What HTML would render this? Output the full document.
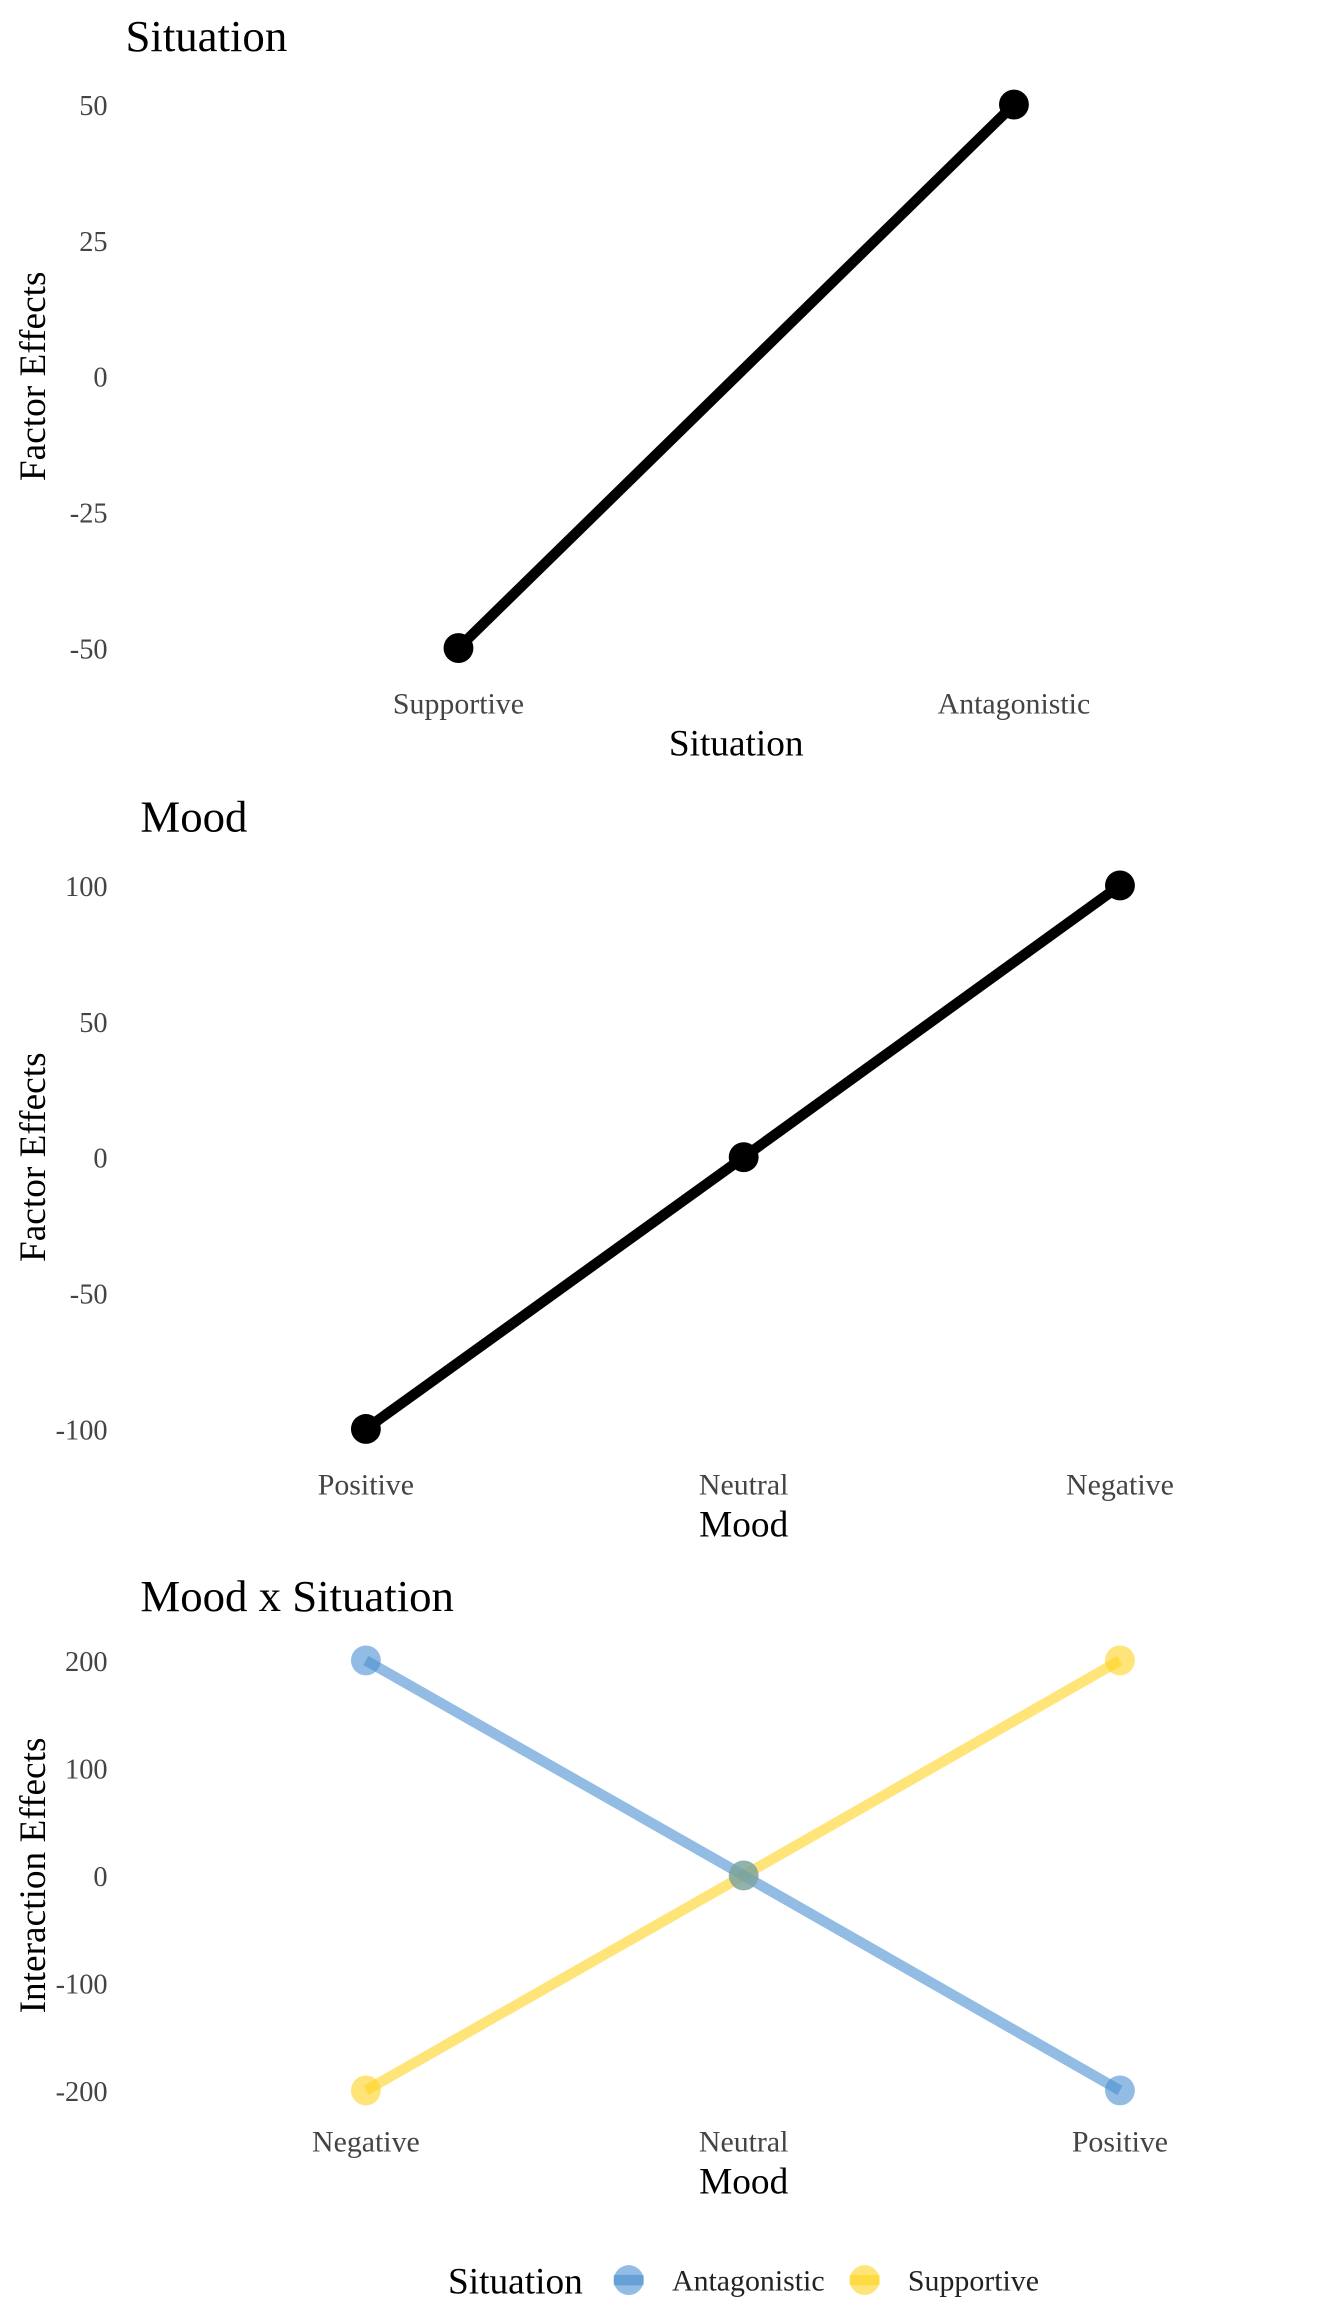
<!DOCTYPE html>
<html><head><meta charset="utf-8"><style>
html,body{margin:0;padding:0;background:#fff}
svg{display:block;font-family:"Liberation Serif",serif}
</style></head><body>
<svg id="chart" width="1344" height="2304" viewBox="0 0 900 1543" xmlns="http://www.w3.org/2000/svg">
<g id="p1"></g>
<g id="p2"></g>
<g id="p3"></g>
<g id="legend">
  <text x="300" y="1536" font-size="25">Situation</text>
  <g>
    <line x1="411" y1="1527" x2="431" y2="1527" stroke="#4a90d0" stroke-opacity="0.6" stroke-width="7"/>
    <circle cx="421" cy="1527" r="10" fill="#4a90d0" fill-opacity="0.6"/>
    <text x="450" y="1534" font-size="20" fill="#222">Antagonistic</text>
  </g>
  <g>
    <line x1="569" y1="1527" x2="589" y2="1527" stroke="#ffd320" stroke-opacity="0.6" stroke-width="7"/>
    <circle cx="579" cy="1527" r="10" fill="#ffd320" fill-opacity="0.6"/>
    <text x="608" y="1534" font-size="20" fill="#222">Supportive</text>
  </g>
</g>
</svg>
<script>
const p1Categories = ["Supportive", "Antagonistic"];
const p1Values = [-50, 50];
const p1Ticks = [-50, -25, 0, 25, 50];
const p2Categories = ["Positive", "Neutral", "Negative"];
const p2Values = [-100, 0, 100];
const p2Ticks = [-100, -50, 0, 50, 100];
const p3Categories = ["Negative", "Neutral", "Positive"];
const p3Antagonistic = [200, 0, -200];
const p3Supportive = [-200, 0, 200];
const p3Ticks = [-200, -100, 0, 100, 200];

const NS = "http://www.w3.org/2000/svg";
function mk(parent, tag, attrs, text) {
  const e = document.createElementNS(NS, tag);
  for (const k in attrs) e.setAttribute(k, attrs[k]);
  if (text !== undefined) e.textContent = text;
  parent.appendChild(e);
  return e;
}
function panel(gid, cfg) {
  const g = document.getElementById(gid);
  const ys = v => cfg.yTop + (cfg.yMax - v) / (cfg.yMax - cfg.yMin) * (cfg.yBot - cfg.yTop);
  const xs = i => cfg.xs[i];
  let t = mk(g, "text", {x: cfg.titleX, y: cfg.titleY, "font-size": 30}, cfg.title);
  
  
  cfg.ticks.forEach(v => {
    const e = mk(g, "text", {x: 72, y: ys(v) + 7, "font-size": 19, "text-anchor": "end", fill: "#444"}, String(v));
    
    
  });
  cfg.cats.forEach((c, i) => {
    const e = mk(g, "text", {x: xs(i), y: cfg.labY, "font-size": 20, "text-anchor": "middle", fill: "#444"}, c);
    
    
  });
  let xt = mk(g, "text", {x: cfg.xTitleX, y: cfg.xTitleY, "font-size": 25, "text-anchor": "middle"}, cfg.xTitle);
  
  
  const cy = (cfg.yTop + cfg.yBot) / 2;
  let yt = mk(g, "text", {x: 0, y: 0, "font-size": 25, "text-anchor": "middle", transform: `translate(30,${cy}) rotate(-90)`}, cfg.yTitle);
  
  
  cfg.series.forEach(s => {
    const pts = s.vals.map((v, i) => xs(i) + "," + ys(v)).join(" ");
    const l = mk(g, "polyline", {points: pts, fill: "none", stroke: s.color, "stroke-opacity": s.op, "stroke-width": 7});
    
    
  });
  cfg.series.forEach(s => {
    s.vals.forEach((v, i) => {
      const c = mk(g, "circle", {cx: xs(i), cy: ys(v), r: 10, fill: s.color, "fill-opacity": s.op});
      
      
    });
  });
}
panel("p1", {title: "Situation", titleX: 84, titleY: 34, yMin: -50, yMax: 50, yTop: 70, yBot: 434,
  ticks: p1Ticks, cats: p1Categories, xs: [307, 679], labY: 478, xTitle: "Situation", xTitleX: 493, xTitleY: 506,
  yTitle: "Factor Effects", series: [{name: "situation", vals: p1Values, color: "#000", op: 1}]});
panel("p2", {title: "Mood", titleX: 94, titleY: 557, yMin: -100, yMax: 100, yTop: 593, yBot: 957,
  ticks: p2Ticks, cats: p2Categories, xs: [245, 498, 750], labY: 1001, xTitle: "Mood", xTitleX: 498, xTitleY: 1029,
  yTitle: "Factor Effects", series: [{name: "mood", vals: p2Values, color: "#000", op: 1}]});
panel("p3", {title: "Mood x Situation", titleX: 94, titleY: 1079, yMin: -200, yMax: 200, yTop: 1112, yBot: 1400,
  ticks: p3Ticks, cats: p3Categories, xs: [245, 498, 750], labY: 1441, xTitle: "Mood", xTitleX: 498, xTitleY: 1469,
  yTitle: "Interaction Effects", series: [
    {name: "supportive", vals: p3Supportive, color: "#ffd320", op: 0.6},
    {name: "antagonistic", vals: p3Antagonistic, color: "#4a90d0", op: 0.6}]});
</script>
</body></html>
